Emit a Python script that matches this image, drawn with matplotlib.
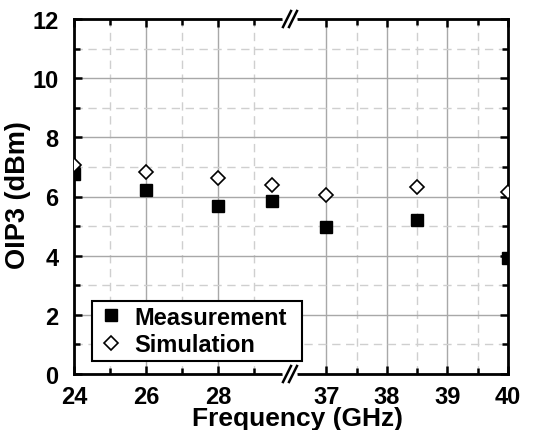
import numpy as np
import matplotlib
matplotlib.use("Agg")
import matplotlib.pyplot as plt
from matplotlib.lines import Line2D

plt.rcParams['font.family'] = ['Liberation Sans', 'DejaVu Sans']
plt.rcParams['font.weight'] = 'bold'

# data
freq = [24, 26, 28, 29.5, 37, 38.5, 40]
meas = [6.76, 6.23, 5.69, 5.86, 4.96, 5.20, 3.91]
sim = [7.07, 6.83, 6.62, 6.40, 6.05, 6.31, 6.16]

left_ticks = [24, 26, 28]
right_ticks = [37, 38, 39, 40]

W, H = 534, 431
fig = plt.figure(figsize=(W / 100, H / 100), dpi=100)

x0, xb, x1 = 74 / W, 290 / W, 508 / W
y0, y1 = 1 - 375 / H, 1 - 20 / H
axL = fig.add_axes([x0, y0, xb - x0, y1 - y0])
axR = fig.add_axes([xb, y0, x1 - xb, y1 - y0])

freq = np.array(freq)
meas = np.array(meas)
sim = np.array(sim)

for ax, lim, ticks, minors in [(axL, (24, 30), left_ticks, [25, 27, 29]),
                               (axR, (36.4, 40), right_ticks, [37.5, 38.5, 39.5])]:
    ax.set_xlim(*lim)
    ax.set_ylim(0, 12)
    ax.set_xticks(ticks)
    ax.set_xticks(minors, minor=True)
    ax.set_yticks(np.arange(0, 13, 2))
    ax.set_yticks(np.arange(1, 12, 2), minor=True)
    ax.grid(which='major', color='#a8a8a8', linewidth=1.0)
    ax.grid(which='minor', color='#cfcfcf', linewidth=1.0, linestyle=(0, (6, 4)))
    ax.set_axisbelow(True)
    ax.tick_params(which='both', direction='in', top=True, right=True,
                   width=1.8, labelsize=17)
    ax.tick_params(which='major', length=6)
    ax.tick_params(which='minor', length=4)
    for s in ax.spines.values():
        s.set_linewidth(2)
    for lab in ax.get_xticklabels() + ax.get_yticklabels():
        lab.set_fontweight('bold')
    ax.plot(freq, meas, 's', color='black', markersize=9, zorder=5)
    ax.plot(freq, sim, 'D', markerfacecolor='white', markeredgecolor='black',
            markersize=7.5, markeredgewidth=1.2, zorder=5)

axL.spines['right'].set_visible(False)
axR.spines['left'].set_visible(False)
axL.tick_params(which='both', right=False)
axR.tick_params(which='both', left=False, labelleft=False)
axL.tick_params(axis='y', pad=11)
axL.tick_params(axis='x', pad=8)
axR.tick_params(axis='x', pad=8)

# break marks
for yy in (y0, y1):
    fig.add_artist(Line2D([xb - 4 / W, xb + 4 / W], [yy - 0.3 / H, yy + 0.3 / H],
                          transform=fig.transFigure, color='white', linewidth=5))
    for dx in (-3, 3):
        fig.add_artist(Line2D([xb + (dx - 4) / W, xb + (dx + 4) / W],
                              [yy - 8 / H, yy + 8 / H],
                              transform=fig.transFigure, color='black', linewidth=1.8))

handles = [Line2D([], [], marker='s', color='black', linestyle='none', markersize=9),
           Line2D([], [], marker='D', markerfacecolor='white', markeredgecolor='black',
                  linestyle='none', markersize=7.5, markeredgewidth=1.2)]
leg = fig.legend(handles, ['Measurement', 'Simulation'], loc='lower left',
                 bbox_to_anchor=(92 / W, 1 - 362 / H, 210 / W, 59 / H),
                 bbox_transform=fig.transFigure, mode='expand',
                 prop={'size': 17, 'weight': 'bold'}, fancybox=False, framealpha=1,
                 edgecolor='black', borderpad=0.2, labelspacing=0.2,
                 handletextpad=0.4, handlelength=1.2, borderaxespad=0)
leg.get_frame().set_linewidth(1.5)
leg.set_zorder(10)

fig.text(298 / W, 0, 'Frequency (GHz)', ha='center', va='bottom',
         fontsize=19, fontweight='bold')
fig.text(18 / W, 1 - 195 / H, 'OIP3 (dBm)', ha='center', va='center',
         rotation=90, fontsize=19.5, fontweight='bold')

fig.savefig('out.png', dpi=100)
